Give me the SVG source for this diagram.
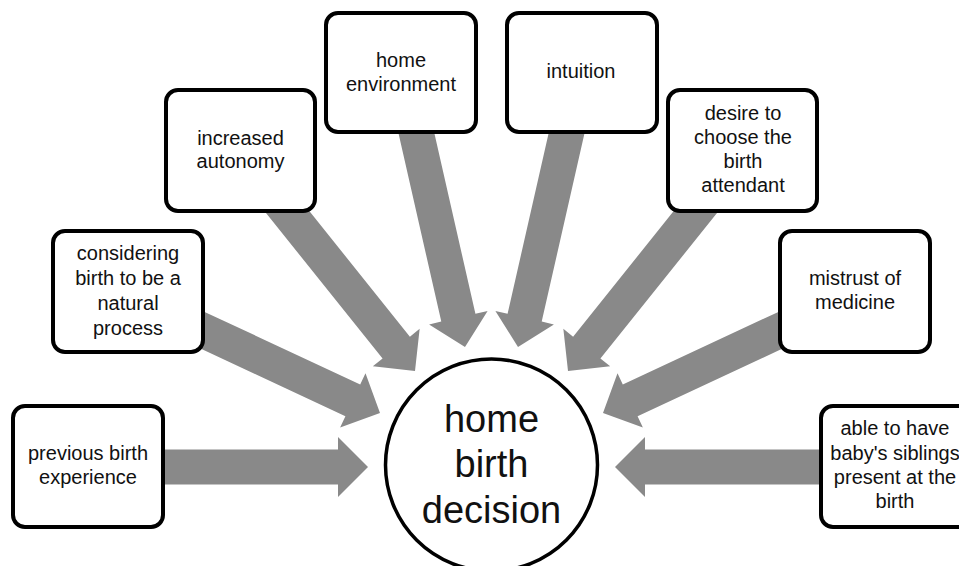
<svg xmlns="http://www.w3.org/2000/svg" width="959" height="566" viewBox="0 0 959 566">
<style>
.box{fill:#fff;stroke:#000;stroke-width:4}
.arr{fill:#898989}
.t{font-family:"Liberation Sans","Open Sans",sans-serif;font-size:20px;fill:#111;text-anchor:middle}
.c{font-family:"Liberation Sans","Open Sans",sans-serif;font-size:38px;fill:#111;text-anchor:middle}
</style>
<rect width="959" height="566" fill="#fff"/>
<g id="connectors">
<polygon class="arr" transform="translate(368,467) rotate(0)" points="-218,-17.5 -30,-17.5 -30,-30 0,0 -30,30 -30,17.5 -218,17.5"/>
<polygon class="arr" transform="translate(380,413) rotate(25)" points="-210,-17.5 -30,-17.5 -30,-30 0,0 -30,30 -30,17.5 -210,17.5"/>
<polygon class="arr" transform="translate(415,371) rotate(51.3)" points="-220,-17.5 -30,-17.5 -30,-30 0,0 -30,30 -30,17.5 -220,17.5"/>
<polygon class="arr" transform="translate(465,347) rotate(77.2)" points="-236,-17.5 -30,-17.5 -30,-30 0,0 -30,30 -30,17.5 -236,17.5"/>
<polygon class="arr" transform="translate(518,347) rotate(102.8)" points="-236,-17.5 -30,-17.5 -30,-30 0,0 -30,30 -30,17.5 -236,17.5"/>
<polygon class="arr" transform="translate(568,371) rotate(128.7)" points="-220,-17.5 -30,-17.5 -30,-30 0,0 -30,30 -30,17.5 -220,17.5"/>
<polygon class="arr" transform="translate(603,413) rotate(155)" points="-210,-17.5 -30,-17.5 -30,-30 0,0 -30,30 -30,17.5 -210,17.5"/>
<polygon class="arr" transform="translate(615,467) rotate(180)" points="-218,-17.5 -30,-17.5 -30,-30 0,0 -30,30 -30,17.5 -218,17.5"/>
</g>
<g id="center">
<circle cx="491.5" cy="465" r="106" fill="#fff" stroke="#000" stroke-width="3.5"/>
<text class="c" x="491.5" y="432">home</text>
<text class="c" x="491.5" y="477">birth</text>
<text class="c" x="491.5" y="523">decision</text>
</g>
<g id="n1">
<rect class="box" x="13" y="406" width="150" height="121" rx="12"/>
<text class="t" x="88" y="460">previous birth</text>
<text class="t" x="88" y="484">experience</text>
</g>
<g id="n2">
<rect class="box" x="53" y="231" width="150" height="121" rx="12"/>
<text class="t" x="128" y="260">considering</text>
<text class="t" x="128" y="285">birth to be a</text>
<text class="t" x="128" y="310">natural</text>
<text class="t" x="128" y="335">process</text>
</g>
<g id="n3">
<rect class="box" x="166" y="90" width="149" height="121" rx="12"/>
<text class="t" x="240.5" y="145">increased</text>
<text class="t" x="240.5" y="168">autonomy</text>
</g>
<g id="n4">
<rect class="box" x="326" y="13" width="150" height="119" rx="12"/>
<text class="t" x="401" y="67">home</text>
<text class="t" x="401" y="91">environment</text>
</g>
<g id="n5">
<rect class="box" x="507" y="13" width="150" height="119" rx="12"/>
<text class="t" x="581" y="78">intuition</text>
</g>
<g id="n6">
<rect class="box" x="668" y="90" width="149" height="121" rx="12"/>
<text class="t" x="743" y="120">desire to</text>
<text class="t" x="743" y="144">choose the</text>
<text class="t" x="743" y="168">birth</text>
<text class="t" x="743" y="192">attendant</text>
</g>
<g id="n7">
<rect class="box" x="780" y="231" width="150" height="121" rx="12"/>
<text class="t" x="855" y="285">mistrust of</text>
<text class="t" x="855" y="309">medicine</text>
</g>
<g id="n8">
<rect class="box" x="821" y="406" width="150" height="121" rx="12"/>
<text class="t" x="895" y="435">able to have</text>
<text class="t" x="895" y="460">baby's siblings</text>
<text class="t" x="895" y="484">present at the</text>
<text class="t" x="895" y="508">birth</text>
</g>
</svg>
